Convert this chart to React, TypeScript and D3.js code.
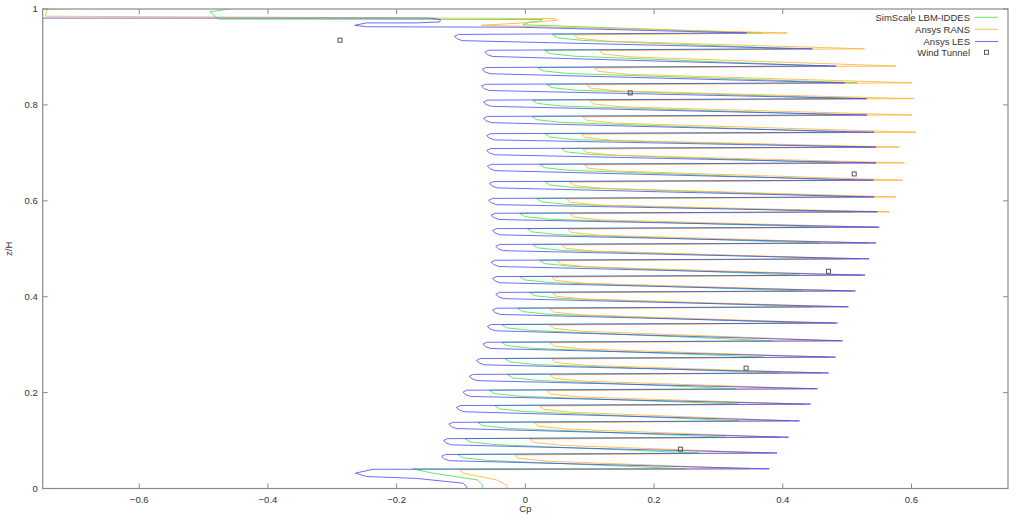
import React from 'react';
import * as d3 from 'd3';

// z/H of each floor spike (height of the right-hand tip)
const levelZ = [0.041, 0.074, 0.107, 0.141, 0.176, 0.208, 0.241, 0.274, 0.308, 0.345, 0.379, 0.412, 0.445, 0.479, 0.512, 0.545, 0.577, 0.608, 0.643, 0.679, 0.712, 0.743, 0.779, 0.813, 0.846, 0.881, 0.917, 0.950];

// Ansys LES (blue)
const lesRight = [0.379, 0.391, 0.409, 0.426, 0.443, 0.454, 0.471, 0.482, 0.493, 0.485, 0.502, 0.513, 0.528, 0.534, 0.545, 0.550, 0.547, 0.542, 0.541, 0.545, 0.545, 0.542, 0.531, 0.530, 0.496, 0.483, 0.446, 0.344];
const lesLeft = [-0.264, -0.130, -0.127, -0.119, -0.107, -0.097, -0.087, -0.076, -0.066, -0.059, -0.051, -0.046, -0.051, -0.053, -0.046, -0.051, -0.053, -0.057, -0.056, -0.059, -0.060, -0.060, -0.065, -0.065, -0.068, -0.067, -0.063, -0.110];
const lesBottom: [number, number][] = [[-0.091, -0.01], [-0.091, 0.004], [-0.097, 0.011], [-0.118, 0.014], [-0.169, 0.021], [-0.247, 0.025], [-0.264, 0.032], [-0.237, 0.040]];
const lesTop: [number, number][] = [[-0.009, 0.962], [-0.247, 0.963], [-0.265, 0.966], [-0.247, 0.971], [-0.169, 0.971], [-0.133, 0.973], [-0.132, 0.978], [-0.148, 0.981], [-0.80, 0.981]];

// SimScale LBM-IDDES (green)
const lbmRight = [0.250, 0.270, 0.312, 0.332, 0.332, 0.328, 0.395, 0.371, 0.384, 0.434, 0.446, 0.431, 0.426, 0.491, 0.457, 0.469, 0.511, 0.527, 0.503, 0.488, 0.538, 0.500, 0.503, 0.530, 0.516, 0.469, 0.415, 0.368];
const lbmLeft = [-0.175, -0.105, -0.094, -0.074, -0.048, -0.056, -0.028, -0.032, -0.037, -0.037, -0.012, 0.007, -0.009, 0.022, 0.011, 0.003, -0.009, 0.017, 0.030, 0.022, 0.056, 0.030, 0.010, 0.011, 0.033, 0.019, 0.030, 0.042];
const lbmBottom: [number, number][] = [[-0.068, -0.01], [-0.068, 0.0], [-0.066, 0.007], [-0.075, 0.018], [-0.144, 0.032], [-0.175, 0.041]];
const lbmTop: [number, number][] = [[-0.004, 0.967], [0.007, 0.973], [0.025, 0.975], [0.027, 0.978], [-0.477, 0.979], [-0.490, 0.994], [-0.454, 1.001], [-0.42, 1.03]];

// Ansys RANS (orange)
const ransRight = [0.348, 0.379, 0.395, 0.410, 0.433, 0.449, 0.460, 0.472, 0.488, 0.480, 0.496, 0.506, 0.523, 0.519, 0.534, 0.547, 0.566, 0.576, 0.586, 0.589, 0.581, 0.607, 0.601, 0.604, 0.601, 0.576, 0.527, 0.407];
const ransLeft = [-0.102, -0.017, 0.007, 0.014, 0.022, 0.033, 0.038, 0.041, 0.038, 0.038, 0.038, 0.042, 0.041, 0.049, 0.056, 0.066, 0.069, 0.064, 0.069, 0.092, 0.089, 0.087, 0.089, 0.100, 0.095, 0.107, 0.115, 0.076];
const ransBottom: [number, number][] = [[-0.028, -0.01], [-0.028, 0.0], [-0.029, 0.007], [-0.045, 0.018], [-0.097, 0.032], [-0.102, 0.039]];
const ransTop: [number, number][] = [[-0.068, 0.966], [0.022, 0.973], [0.050, 0.977], [0.045, 0.980], [-0.746, 0.985], [-0.743, 0.999], [-0.711, 1.001], [-0.68, 1.03]];

// Wind tunnel measurements
const windCp = [-0.288, 0.163, 0.511, 0.471, 0.343, 0.241];
const windZ = [0.935, 0.825, 0.656, 0.453, 0.251, 0.082];

const xTicks = [-0.6, -0.4, -0.2, 0, 0.2, 0.4, 0.6];
const yTicks = [0, 0.2, 0.4, 0.6, 0.8, 1];

const seriesNames = ['SimScale LBM-IDDES', 'Ansys RANS', 'Ansys LES'];
const seriesColors = ['#4ee04e', '#ffb43c', '#4848f4'];
const seriesOpacity = [0.85, 0.85, 0.8];

type Pt = [number, number];
interface Shape { dzLeft: number; kink: Pt[]; upper: Pt | null }

function buildSeries(bottom: Pt[], left: number[], right: number[], top: Pt[], s: Shape): Pt[] {
  const pts: Pt[] = [...bottom];
  for (let k = 0; k < levelZ.length; k++) {
    if (k > 0) {
      const zl = levelZ[k] + s.dzLeft;
      for (const [dx, dz] of s.kink) pts.push([left[k] + dx, zl + dz]);
      pts.push([left[k], zl]);
      if (s.upper) pts.push([left[k] + s.upper[0], zl + s.upper[1]]);
    }
    pts.push([right[k], levelZ[k]]);
  }
  return [...pts, ...top];
}

const FONT = 'Liberation Sans, Arial, sans-serif';

export default function App() {
  const x0 = 42.7, x1 = 1008, y0 = 488.5, y1 = 9;
  const x = d3.scaleLinear().domain([-0.75, 0.75]).range([x0, x1]);
  const y = d3.scaleLinear().domain([0, 1]).range([y0, y1]);
  const line = d3.line<Pt>().x(d => x(d[0])).y(d => y(d[1]));

  const lbm = buildSeries(lbmBottom, lbmLeft, lbmRight, lbmTop, { dzLeft: -0.003, kink: [[0.047, -0.0125], [0.008, -0.007]], upper: null });
  const rans = buildSeries(ransBottom, ransLeft, ransRight, ransTop, { dzLeft: -0.004, kink: [[0.05, -0.013], [0.006, -0.007]], upper: null });
  const les = buildSeries(lesBottom, lesLeft, lesRight, lesTop, { dzLeft: -0.007, kink: [[0.012, -0.009], [0.004, -0.005]], upper: [0.006, 0.004] });
  const all = [lbm, rans, les];

  const axisColor = '#8a8a8a';
  const textColor = '#333';
  const legendY = [17.3, 29.3, 41.5, 52.3];

  return (
    <svg width={1024} height={523} style={{ position: 'absolute', left: 0, top: 0, background: '#fff' }}>
      <defs>
        <clipPath id="plot">
          <rect x={x0} y={y1} width={x1 - x0} height={y0 - y1} />
        </clipPath>
      </defs>
      <rect x={0} y={0} width={1024} height={523} fill="#fff" />
      <g clipPath="url(#plot)" fill="none" strokeWidth={1} strokeLinejoin="round">
        {all.map((pts, i) => (
          <path key={i} d={line(pts) || ''} stroke={seriesColors[i]} strokeOpacity={seriesOpacity[i]} />
        ))}
      </g>
      {windCp.map((c, i) => (
        <rect key={i} x={x(c) - 2} y={y(windZ[i]) - 2} width={4} height={4} fill="none" stroke="#555" strokeWidth={1} />
      ))}
      {/* border */}
      <rect x={x0} y={y1} width={x1 - x0} height={y0 - y1} fill="none" stroke={axisColor} strokeWidth={1.2} />
      {xTicks.map(t => (
        <g key={'x' + t}>
          <line x1={x(t)} x2={x(t)} y1={y0} y2={y0 - 5} stroke={axisColor} />
          <line x1={x(t)} x2={x(t)} y1={y1} y2={y1 + 5} stroke={axisColor} />
          <text x={x(t)} y={y0 + 14.5} textAnchor="middle" fontFamily={FONT} fontSize={9.5} fill={textColor}>{d3.format('')(t)}</text>
        </g>
      ))}
      {yTicks.map(t => (
        <g key={'y' + t}>
          <line x1={x0} x2={x0 + 5} y1={y(t)} y2={y(t)} stroke={axisColor} />
          <line x1={x1} x2={x1 - 5} y1={y(t)} y2={y(t)} stroke={axisColor} />
          <text x={x0 - 5} y={y(t) + 3.3} textAnchor="end" fontFamily={FONT} fontSize={9.5} fill={textColor}>{d3.format('')(t)}</text>
        </g>
      ))}
      <text x={(x0 + x1) / 2} y={512} textAnchor="middle" fontFamily={FONT} fontSize={9.5} fill={textColor}>Cp</text>
      <text transform={`translate(12,${(y0 + y1) / 2}) rotate(-90)`} textAnchor="middle" fontFamily={FONT} fontSize={9.5} fill={textColor}>z/H</text>
      {/* legend */}
      {seriesNames.map((n, i) => (
        <g key={n}>
          <text x={970} y={legendY[i] + 3.3} textAnchor="end" fontFamily={FONT} fontSize={9.5} fill={textColor}>{n}</text>
          <line x1={975} x2={998} y1={legendY[i]} y2={legendY[i]} stroke={seriesColors[i]} strokeOpacity={seriesOpacity[i]} strokeWidth={1} />
        </g>
      ))}
      <text x={970} y={legendY[3] + 3.3} textAnchor="end" fontFamily={FONT} fontSize={9.5} fill={textColor}>Wind Tunnel</text>
      <rect x={986.5 - 2} y={legendY[3] - 2} width={4} height={4} fill="none" stroke="#555" strokeWidth={1} />
    </svg>
  );
}
